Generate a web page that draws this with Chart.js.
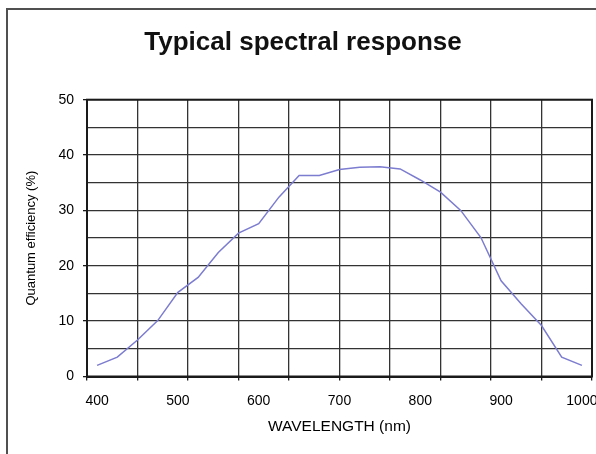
<!DOCTYPE html>
<html>
<head>
<meta charset="utf-8">
<title>Typical spectral response</title>
<script src="https://cdn.jsdelivr.net/npm/chart.js@4.4.1/dist/chart.umd.min.js"></script>
<style>
  html, body { margin: 0; padding: 0; background: #fff; }
  #wrap { position: relative; width: 596px; height: 454px; overflow: hidden; }
  #frame { position: absolute; left: 6px; top: 8px; width: 700px; height: 600px; border: 2px solid #505050; }
  #chart { position: absolute; left: 0; top: 0; }
</style>
</head>
<body>
<div id="wrap">
  <div id="frame"></div>
  <canvas id="chart" width="596" height="454"></canvas>
</div>
<script>
// 波長 (nm) 與量子效率 (%)
const wavelengths = [400, 425, 450, 475, 500, 525, 550, 575, 600, 625, 650, 675, 700,
                     725, 750, 775, 800, 825, 850, 875, 900, 925, 950, 975, 1000];
const efficiency = [2.0, 3.5, 6.6, 10.1, 15.2, 17.9, 22.4, 25.9, 27.6, 32.4, 36.3, 36.3, 37.4,
                    37.8, 37.9, 37.5, 35.5, 33.3, 30.0, 25.1, 17.3, 13.1, 9.2, 3.5, 2.0];
const xTickLabels = [400, 500, 600, 700, 800, 900, 1000];
const yTickLabels = [0, 10, 20, 30, 40, 50];

Chart.defaults.font.family = "Arial, 'Liberation Sans', sans-serif";
Chart.defaults.color = '#000';

const GRID = '#333';
const AXIS = '#1a1a1a';

// 外框 (上、右)
const plotFrame = {
    id: 'plotFrame',
    afterDraw(chart) {
        const { ctx, chartArea: a } = chart;
        ctx.save();
        ctx.strokeStyle = AXIS;
        ctx.lineWidth = 2;
        ctx.strokeRect(a.left, a.top, a.right - a.left, a.bottom - a.top);
        ctx.restore();
    }
};

new Chart(document.getElementById('chart'), {
    type: 'line',
    data: {
        datasets: [{
            data: wavelengths.map((w, i) => ({ x: w, y: efficiency[i] })),
            xAxisID: 'x',
            yAxisID: 'y',
            borderColor: '#7c7cd0',
            borderWidth: 1.5,
            pointRadius: 0,
            tension: 0,
            fill: false
        }]
    },
    options: {
        responsive: false,
        animation: false,
        layout: { padding: { left: 14, right: 4, top: 0, bottom: 0 } },
        plugins: {
            legend: { display: false },
            tooltip: { enabled: false },
            title: {
                display: true,
                text: 'Typical spectral response',
                color: '#111',
                font: { size: 26, weight: 'bold' },
                padding: { top: 27.5, bottom: 41 }
            }
        },
        scales: {
            x: {
                type: 'linear',
                position: 'bottom',
                weight: 0,
                min: 387.5,
                max: 1012.5,
                afterBuildTicks: s => {
                    s.ticks = [];
                    for (let i = 0; i <= 10; i++) s.ticks.push({ value: s.min + i * (s.max - s.min) / 10 });
                },
                ticks: { display: false },
                grid: { color: GRID, lineWidth: 1.3, tickLength: 4, tickColor: AXIS },
                border: { color: AXIS, width: 2 },
                afterFit: s => { s.height = 4; }
            },
            x2: {
                type: 'linear',
                position: 'bottom',
                weight: 1,
                min: 387.5,
                max: 1012.5,
                afterBuildTicks: s => { s.ticks = xTickLabels.map(v => ({ value: v })); },
                grid: { display: false },
                border: { display: false },
                ticks: {
                    font: { size: 14 },
                    padding: 4,
                    maxRotation: 0,
                    autoSkip: false,
                    callback: v => String(v)
                },
                title: {
                    display: true,
                    text: 'WAVELENGTH (nm)',
                    font: { size: 15.5 },
                    padding: { top: 0, bottom: 17.5 }
                },
                afterFit: s => { s.height = 73.5; s.paddingLeft = 0; s.paddingRight = 0; }
            },
            y: {
                min: 0,
                max: 50,
                ticks: {
                    stepSize: 5,
                    font: { size: 14 },
                    padding: 9,
                    callback: v => yTickLabels.includes(v) ? String(v) : ''
                },
                grid: {
                    color: GRID,
                    lineWidth: 1.3,
                    tickLength: 4,
                    tickColor: c => (c.tick && yTickLabels.includes(c.tick.value)) ? AXIS : 'rgba(0,0,0,0)'
                },
                border: { color: AXIS, width: 2 },
                title: {
                    display: true,
                    text: 'Quantum efficiency (%)',
                    font: { size: 13 },
                    padding: { top: 9.7, bottom: 0 }
                },
                afterFit: s => { s.width = 73; }
            }
        }
    },
    plugins: [plotFrame]
});
</script>
</body>
</html>
